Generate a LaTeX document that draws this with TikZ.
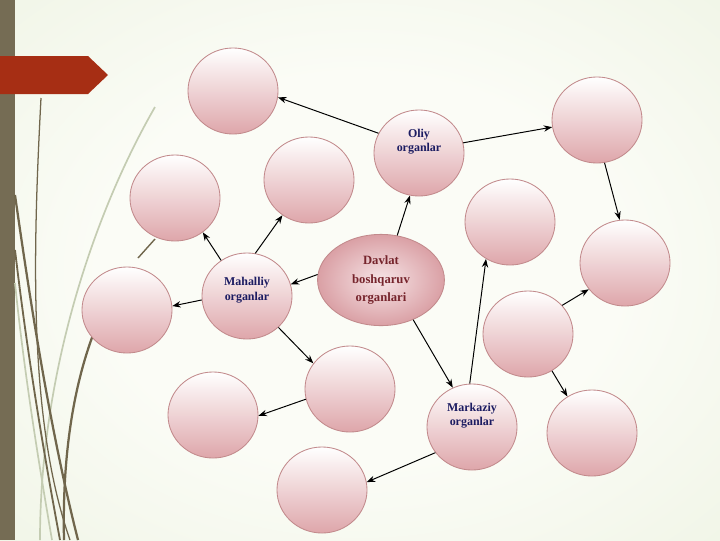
\documentclass[tikz,border=0pt]{standalone}
\usepackage{fontspec}
\setmainfont{Liberation Serif}
\usetikzlibrary{shapes.geometric,arrows.meta,positioning}
\definecolor{bgout}     {RGB}{220,232,202}
\definecolor{bgin}      {RGB}{251,252,246}
\definecolor{barbrown}  {RGB}{117,108,84}
\definecolor{bannerred} {RGB}{166,46,20}
\definecolor{bubpink}   {RGB}{222,166,170}
\definecolor{bubedge}   {RGB}{194,138,140}
\definecolor{davin}     {RGB}{246,228,230}
\definecolor{davout}    {RGB}{218,160,165}
\definecolor{txtnavy}   {RGB}{28,28,98}
\definecolor{txtred}    {RGB}{118,36,44}
\definecolor{grass}     {RGB}{112,102,76}
\definecolor{grasslight}{RGB}{196,204,178}
\pgfdeclareradialshading{bgglow}{\pgfpoint{0bp}{0bp}}{%
  color(0bp)=(bgin); color(18bp)=(bgin); color(72bp)=(bgout)}

\begin{document}
\begin{tikzpicture}[
  x=0.025cm, y=-0.025cm,
  bub/.style={ellipse, draw=bubedge, line width=0.6pt,
              top color=white, bottom color=bubpink,
              minimum width=2.25cm, minimum height=2.15cm,
              inner sep=0pt, align=center, text=txtnavy,
              font=\fontsize{8.5}{10.5}\selectfont\bfseries},
  bigbub/.style={ellipse, draw=bubedge, line width=0.6pt,
              inner color=davin, outer color=davout,
              minimum width=3.17cm, minimum height=2.28cm,
              inner sep=0pt, align=center, text=txtred,
              font=\fontsize{9}{13.5}\selectfont\bfseries},
  arr/.style={-{Stealth[length=6pt,width=4.5pt]}, line width=0.7pt},
]
\useasboundingbox (0,0) rectangle (720,540);

% Background
\shade[shading=bgglow] (0,0) rectangle (720,540);
\fill[barbrown] (0,0) rectangle (15,540);
\fill[bannerred] (0,56) -- (88,56) -- (108,75) -- (88,94) -- (0,94) -- cycle;

% Grass
\draw[grasslight, line width=1.2pt] (155,107) .. controls (90,220) and (40,380) .. (40,540);
\draw[grasslight, line width=1.2pt] (15,283) .. controls (25,380) and (40,470) .. (52,540);
\draw[grass, line width=0.9pt] (41,98) .. controls (33,250) and (28,420) .. (70,540);
\draw[grass, line width=1.6pt] (15,195) .. controls (30,300) and (50,430) .. (78,540);
\draw[grass, line width=1.3pt] (15,250) .. controls (28,360) and (45,460) .. (60,540);
\draw[grass, line width=1.6pt] (96,327) .. controls (75,380) and (62,450) .. (64,540);
\draw[grass, line width=1pt] (138,258) -- (155,239);

% Bubbles
\node[bub] (b1) at (233,91) {};
\node[bub, text depth=18pt] (oliy) at (419,153) {Oliy\\organlar};
\node[bub] (b2) at (597,120) {};
\node[bub] (b3) at (309,180) {};
\node[bub] (b4) at (175,198) {};
\node[bigbub] (dav) at (381,280) {Davlat\\boshqaruv\\organlari};
\node[bub] (b5) at (510,222) {};
\node[bub] (b6) at (625,263) {};
\node[bub, text depth=10pt] (mah) at (247,296) {Mahalliy\\organlar};
\node[bub] (b7) at (127,310) {};
\node[bub] (b8) at (528,334) {};
\node[bub] (b9) at (350,389) {};
\node[bub] (b10) at (213,415) {};
\node[bub, text depth=18pt] (mark) at (472,427) {Markaziy\\organlar};
\node[bub] (b11) at (592,433) {};
\node[bub] (b12) at (322,490) {};

% Arrows
\draw[arr] (oliy.154) -- (b1.-8);
\draw[arr] (oliy.13) -- (b2.-171);
\draw[arr] (b2.-80) -- (b6.97);
\draw[arr] (dav.70) -- (oliy.-102);
\draw[arr] (dav.175) -- (mah.15);
\draw[arr] (mah.79) -- (b3.-127);
\draw[arr] (mah.126) -- (b4.-51);
\draw[arr] (mah.185) -- (b7.5);
\draw[arr] (mah.-45) -- (b9.145);
\draw[arr] (dav.-51) -- (mark.116);
\draw[arr] (mark.93) -- (b5.-123);
\draw[arr] (b8.40) -- (b6.-144);
\draw[arr] (b8.-57) -- (b11.124);
\draw[arr] (b9.-167) -- (b10.-1);
\draw[arr] (mark.-145) -- (b12.10);

\end{tikzpicture}
\end{document}
